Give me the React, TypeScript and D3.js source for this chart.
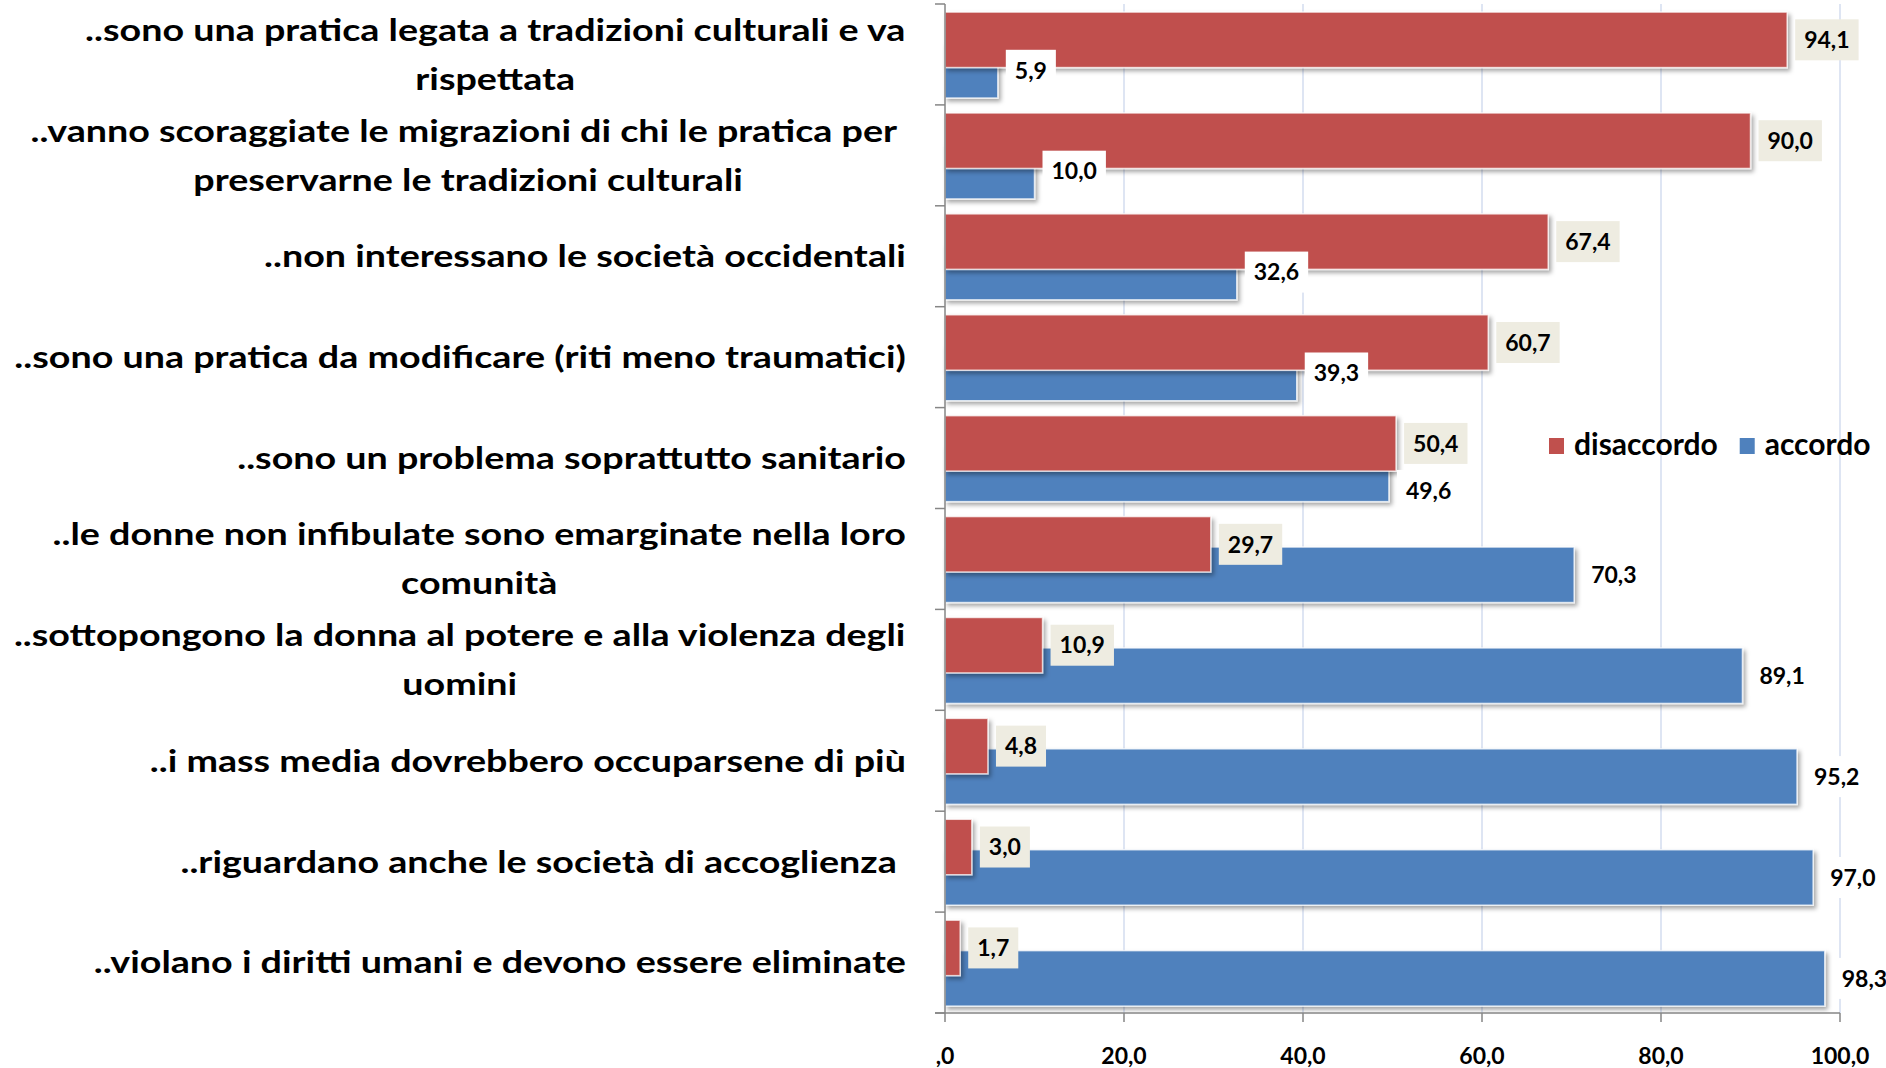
import React from 'react';
import * as d3 from 'd3';

const categories: string[][] = [
  ['..sono una pratica legata a tradizioni culturali e va', 'rispettata'],
  ['..vanno scoraggiate le migrazioni di chi le pratica per ', 'preservarne le tradizioni culturali'],
  ['..non interessano le società occidentali'],
  ['..sono una pratica da modificare (riti meno traumatici)'],
  ['..sono un problema soprattutto sanitario'],
  ['..le donne non infibulate sono emarginate nella loro', 'comunità'],
  ['..sottopongono la donna al potere e alla violenza degli', 'uomini'],
  ['..i mass media dovrebbero occuparsene di più'],
  ['..riguardano anche le società di accoglienza '],
  ['..violano i diritti umani e devono essere eliminate'],
];
const disaccordo = [94.1, 90.0, 67.4, 60.7, 50.4, 29.7, 10.9, 4.8, 3.0, 1.7];
const accordo = [5.9, 10.0, 32.6, 39.3, 49.6, 70.3, 89.1, 95.2, 97.0, 98.3];
const xTicks = [0, 20, 40, 60, 80, 100];
const xTickLabels = [',0', '20,0', '40,0', '60,0', '80,0', '100,0'];
const seriesNames = ['disaccordo', 'accordo'];
const seriesColors = ['#C0504D', '#4F81BD'];
const labelFills = ['#EEECE1', '#FFFFFF'];

const W = 1886;
const H = 1068;
const FONT = 'Lato, "Open Sans", sans-serif';
const CAT_SIZE = 31;
const CAT_SX = 1.215;
const VAL_SIZE = 23;
const TICK_SIZE = 23;
const LEG_SIZE = 30;

let canvasCtx: CanvasRenderingContext2D | null = null;
function measure(text: string, size: number): number {
  if (!canvasCtx) {
    const c = document.createElement('canvas');
    canvasCtx = c.getContext('2d');
  }
  if (!canvasCtx) return text.length * size * 0.5;
  canvasCtx.font = `bold ${size}px Lato`;
  return canvasCtx.measureText(text).width;
}

const fmt = (v: number) => v.toFixed(1).replace('.', ',');

type Box = { x: number; y: number; w: number; h: number; text: string; s: number; i: number };

export default function App() {
  const x = d3.scaleLinear().domain([0, 100]).range([945, 1840]);
  const y = d3.scaleBand<number>().domain(d3.range(categories.length)).range([4, 1013]).paddingInner(0).paddingOuter(0);
  const bw = y.bandwidth();
  const barH = bw * 0.55;
  const offsets = [bw * 0.08, bw * 0.382];
  const series = [disaccordo, accordo];
  const catRight = 906;
  const lineH = 49;
  const boxH = 41;

  // value label boxes, with a simple overlap avoidance (accordo label pushed below disaccordo label)
  const boxes: Box[] = [];
  categories.forEach((_, i) => {
    const made: Box[] = [];
    [0, 1].forEach((s) => {
      const v = series[s][i];
      const t = fmt(v);
      const tw = measure(t, VAL_SIZE);
      const bwid = tw + 18;
      const bx = x(v) + 8;
      const cy = (y(i) as number) + offsets[s] + barH / 2;
      const b: Box = { x: bx, y: cy - boxH / 2, w: bwid, h: boxH, text: t, s, i };
      made.forEach((o) => {
        const hx = b.x < o.x + o.w && o.x < b.x + b.w;
        const hy = b.y < o.y + o.h && o.y < b.y + b.h;
        if (hx && hy) b.y = o.y + o.h + 6;
      });
      made.push(b);
    });
    boxes.push(...made);
  });

  return (
    <svg width={W} height={H} style={{ position: 'absolute', left: 0, top: 0, background: '#fff' }} fontFamily={FONT}>
      <defs>
        <filter id="sh" x="-5%" y="-30%" width="115%" height="180%">
          <feDropShadow dx="2.5" dy="3" stdDeviation="2" floodColor="#000" floodOpacity="0.35" />
        </filter>
      </defs>
      <rect x={0} y={0} width={W} height={H} fill="#fff" />
      {xTicks.filter((t) => t > 0).map((t) => (
        <line key={t} x1={x(t)} x2={x(t)} y1={4} y2={1013} stroke="#D3DDEF" strokeWidth={1.5} />
      ))}
      {[1, 0].map((s) => (
        <g key={s} filter="url(#sh)">
          {series[s].map((v, i) => (
            <rect
              key={i}
              x={x(0)}
              y={(y(i) as number) + offsets[s]}
              width={x(v) - x(0)}
              height={barH}
              fill={seriesColors[s]}
              stroke="#fff"
              strokeOpacity={0.75}
              strokeWidth={1.5}
            />
          ))}
        </g>
      ))}
      <line x1={x(0)} x2={x(0)} y1={4} y2={1013} stroke="#868686" strokeWidth={1.5} />
      {d3.range(categories.length + 1).map((k) => {
        const yy = 4 + k * bw;
        return <line key={k} x1={x(0) - 10} x2={x(0)} y1={yy} y2={yy} stroke="#868686" strokeWidth={1.5} />;
      })}
      <line x1={x(0) - 10} x2={x(100)} y1={1013} y2={1013} stroke="#868686" strokeWidth={1.5} />
      {xTicks.map((t, i) => (
        <g key={t}>
          <line x1={x(t)} x2={x(t)} y1={1013} y2={1022} stroke="#868686" strokeWidth={1.5} />
          <text x={x(t)} y={1064} textAnchor="middle" fontSize={TICK_SIZE} fontWeight="bold" fill="#000">
            {xTickLabels[i]}
          </text>
        </g>
      ))}
      {categories.map((lines, i) => {
        const widths = lines.map((l) => measure(l, CAT_SIZE) * CAT_SX);
        const maxW = Math.max(...widths);
        const cx = catRight - maxW / 2;
        const cy = (y(i) as number) + bw / 2;
        const top = cy - ((lines.length - 1) * lineH) / 2;
        return (
          <g key={i}>
            {lines.map((l, j) => (
              <text
                key={j}
                transform={`translate(${cx},${top + j * lineH}) scale(${CAT_SX},1)`}
                x={0}
                y={0}
                dy="0.35em"
                textAnchor="middle"
                fontSize={CAT_SIZE}
                fontWeight="bold"
                fill="#000"
                style={{ whiteSpace: 'pre' }}
              >
                {l}
              </text>
            ))}
          </g>
        );
      })}
      {boxes
        .slice()
        .sort((a, b) => b.s - a.s)
        .map((b) => (
          <g key={`${b.s}-${b.i}`}>
            <rect x={b.x} y={b.y} width={b.w} height={b.h} fill={labelFills[b.s]} />
            <text x={b.x + b.w / 2} y={b.y + b.h / 2} dy="0.36em" textAnchor="middle" fontSize={VAL_SIZE} fontWeight="bold" fill="#000">
              {b.text}
            </text>
          </g>
        ))}
      {(() => {
        let lx = 1549;
        return seriesNames.map((n, k) => {
          const gx = lx;
          lx += 25 + measure(n, LEG_SIZE) + 22;
          return (
            <g key={n}>
              <rect x={gx} y={438} width={15} height={16} fill={seriesColors[k]} />
              <text x={gx + 25} y={455} fontSize={LEG_SIZE} fontWeight="bold" fill="#000">
                {n}
              </text>
            </g>
          );
        });
      })()}
    </svg>
  );
}
